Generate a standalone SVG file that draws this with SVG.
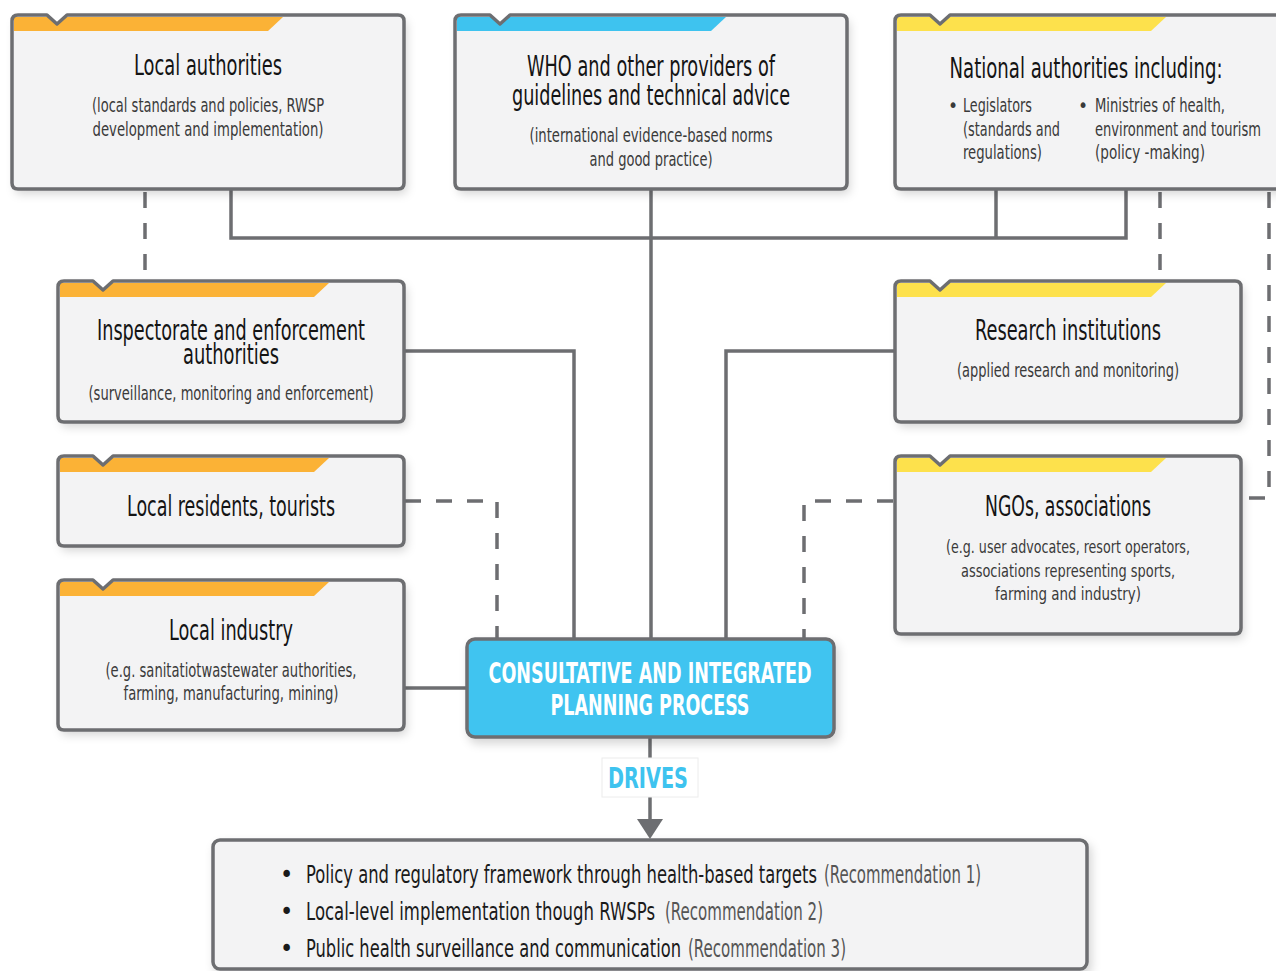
<svg xmlns="http://www.w3.org/2000/svg" width="1276" height="971" viewBox="0 0 1276 971">
<defs>
<filter id="sh" x="-10%" y="-10%" width="130%" height="140%">
<feDropShadow dx="3" dy="5" stdDeviation="5" flood-color="#000" flood-opacity="0.16"/>
</filter>
<style>
text{font-family:"Liberation Sans Narrow","DejaVu Sans Condensed","Liberation Sans",sans-serif}
.t{font-size:28px;fill:#141414;text-anchor:middle}
.s{font-size:20px;fill:#3a3a3a;text-anchor:middle}
.sn{font-size:18.5px;fill:#3a3a3a;text-anchor:middle}
.sl{font-size:19px;fill:#3a3a3a}
.bf{fill:#f3f3f4}
.bs{fill:none;stroke:#6d6e71;stroke-width:3.5;stroke-linejoin:round}
.or{fill:#fbb236}
.bl{fill:#3ec3ef}
.ye{fill:#fde14c}
.nt{fill:#fff}
.ln{fill:none;stroke:#6d6e71;stroke-width:3.5}
.da{stroke-dasharray:16 15}
.c{font-size:29px;font-weight:bold;fill:#fff;text-anchor:middle}
.b{font-size:25px;fill:#1a1a1a}
.r{font-size:25px;fill:#555}
</style>
</defs>
<rect width="1276" height="971" fill="#fff"/>

<g id="connectors">
<path class="ln" d="M231,189 V238 H1126 V189"/>
<path class="ln" d="M996,189 V238"/>
<path class="ln" d="M651,189 V639"/>
<path class="ln" d="M404,351 H574 V639"/>
<path class="ln" d="M895,351 H726 V639"/>
<path class="ln" d="M404,688 H467"/>
<path class="ln da" d="M145,192 V270"/>
<path class="ln da" d="M1160,192 V270"/>
<path class="ln da" d="M1269,192 V498 H1243"/>
<path class="ln da" d="M405,501 H497 V639"/>
<path class="ln da" d="M893,501 H804 V639"/>
<path class="ln" d="M650,737 V822"/>
<polygon points="637,819 663,819 650,839" fill="#6d6e71"/>
</g>

<g id="local-authorities">
<path class="bf" filter="url(#sh)" d="M18,15 H47 L57,24 L67,15 H398 Q404,15 404,21 V183 Q404,189 398,189 H18 Q12,189 12,183 V21 Q12,15 18,15 Z"/>
<path class="or" d="M14,17 H283 L268,31 H14 Z"/>
<polygon class="nt" points="46,13 68,13 57,24"/>
<path class="bs" d="M18,15 H47 L57,24 L67,15 H398 Q404,15 404,21 V183 Q404,189 398,189 H18 Q12,189 12,183 V21 Q12,15 18,15 Z"/>
<text class="t" x="208" y="75" textLength="148" lengthAdjust="spacingAndGlyphs">Local authorities</text>
<text class="s" x="208" y="112" textLength="232" lengthAdjust="spacingAndGlyphs">(local standards and policies, RWSP</text>
<text class="s" x="208" y="136" textLength="231" lengthAdjust="spacingAndGlyphs">development and implementation)</text>
</g>

<g id="who">
<path class="bf" filter="url(#sh)" d="M461,15 H490 L500,24 L510,15 H841 Q847,15 847,21 V183 Q847,189 841,189 H461 Q455,189 455,183 V21 Q455,15 461,15 Z"/>
<path class="bl" d="M457,17 H726 L711,31 H457 Z"/>
<polygon class="nt" points="489,13 511,13 500,24"/>
<path class="bs" d="M461,15 H490 L500,24 L510,15 H841 Q847,15 847,21 V183 Q847,189 841,189 H461 Q455,189 455,183 V21 Q455,15 461,15 Z"/>
<text class="t" x="651" y="76" textLength="248" lengthAdjust="spacingAndGlyphs">WHO and other providers of</text>
<text class="t" x="651" y="105" textLength="278" lengthAdjust="spacingAndGlyphs">guidelines and technical advice</text>
<text class="s" x="651" y="142" textLength="243" lengthAdjust="spacingAndGlyphs">(international evidence-based norms</text>
<text class="s" x="651" y="166" textLength="123" lengthAdjust="spacingAndGlyphs">and good practice)</text>
</g>

<g id="national-authorities">
<path class="bf" filter="url(#sh)" d="M901,15 H930 L940,24 L950,15 H1309 Q1315,15 1315,21 V183 Q1315,189 1309,189 H901 Q895,189 895,183 V21 Q895,15 901,15 Z"/>
<path class="ye" d="M897,17 H1166 L1151,31 H897 Z"/>
<polygon class="nt" points="929,13 951,13 940,24"/>
<path class="bs" d="M901,15 H930 L940,24 L950,15 H1309 Q1315,15 1315,21 V183 Q1315,189 1309,189 H901 Q895,189 895,183 V21 Q895,15 901,15 Z"/>
<text class="t" x="1086" y="78" font-size="27" textLength="273" lengthAdjust="spacingAndGlyphs">National authorities including:</text>
<text class="sl" x="948" y="112">•</text>
<text class="sl" x="963" y="112" textLength="69" lengthAdjust="spacingAndGlyphs">Legislators</text>
<text class="sl" x="963" y="136" textLength="97" lengthAdjust="spacingAndGlyphs">(standards and</text>
<text class="sl" x="963" y="159" textLength="79" lengthAdjust="spacingAndGlyphs">regulations)</text>
<text class="sl" x="1078" y="112">•</text>
<text class="sl" x="1095" y="112" textLength="130" lengthAdjust="spacingAndGlyphs">Ministries of health,</text>
<text class="sl" x="1095" y="136" textLength="166" lengthAdjust="spacingAndGlyphs">environment and tourism</text>
<text class="sl" x="1095" y="159" textLength="110" lengthAdjust="spacingAndGlyphs">(policy -making)</text>
</g>

<g id="inspectorate">
<path class="bf" filter="url(#sh)" d="M64,281 H93 L103,290 L113,281 H398 Q404,281 404,287 V416 Q404,422 398,422 H64 Q58,422 58,416 V287 Q58,281 64,281 Z"/>
<path class="or" d="M60,283 H329 L314,297 H60 Z"/>
<polygon class="nt" points="92,279 114,279 103,290"/>
<path class="bs" d="M64,281 H93 L103,290 L113,281 H398 Q404,281 404,287 V416 Q404,422 398,422 H64 Q58,422 58,416 V287 Q58,281 64,281 Z"/>
<text class="t" x="231" y="340" textLength="268" lengthAdjust="spacingAndGlyphs">Inspectorate and enforcement</text>
<text class="t" x="231" y="364" textLength="96" lengthAdjust="spacingAndGlyphs">authorities</text>
<text class="s" x="231" y="400" textLength="285" lengthAdjust="spacingAndGlyphs">(surveillance, monitoring and enforcement)</text>
</g>

<g id="local-residents">
<path class="bf" filter="url(#sh)" d="M64,456 H93 L103,465 L113,456 H398 Q404,456 404,462 V540 Q404,546 398,546 H64 Q58,546 58,540 V462 Q58,456 64,456 Z"/>
<path class="or" d="M60,458 H329 L314,472 H60 Z"/>
<polygon class="nt" points="92,454 114,454 103,465"/>
<path class="bs" d="M64,456 H93 L103,465 L113,456 H398 Q404,456 404,462 V540 Q404,546 398,546 H64 Q58,546 58,540 V462 Q58,456 64,456 Z"/>
<text class="t" x="231" y="516" textLength="208" lengthAdjust="spacingAndGlyphs">Local residents, tourists</text>
</g>

<g id="local-industry">
<path class="bf" filter="url(#sh)" d="M64,580 H93 L103,589 L113,580 H398 Q404,580 404,586 V724 Q404,730 398,730 H64 Q58,730 58,724 V586 Q58,580 64,580 Z"/>
<path class="or" d="M60,582 H329 L314,596 H60 Z"/>
<polygon class="nt" points="92,578 114,578 103,589"/>
<path class="bs" d="M64,580 H93 L103,589 L113,580 H398 Q404,580 404,586 V724 Q404,730 398,730 H64 Q58,730 58,724 V586 Q58,580 64,580 Z"/>
<text class="t" x="231" y="640" textLength="124" lengthAdjust="spacingAndGlyphs">Local industry</text>
<text class="s" x="231" y="677" textLength="251" lengthAdjust="spacingAndGlyphs">(e.g.  sanitatiotwastewater authorities,</text>
<text class="s" x="231" y="700" textLength="215" lengthAdjust="spacingAndGlyphs">farming, manufacturing, mining)</text>
</g>

<g id="research">
<path class="bf" filter="url(#sh)" d="M901,281 H930 L940,290 L950,281 H1235 Q1241,281 1241,287 V416 Q1241,422 1235,422 H901 Q895,422 895,416 V287 Q895,281 901,281 Z"/>
<path class="ye" d="M897,283 H1166 L1151,297 H897 Z"/>
<polygon class="nt" points="929,279 951,279 940,290"/>
<path class="bs" d="M901,281 H930 L940,290 L950,281 H1235 Q1241,281 1241,287 V416 Q1241,422 1235,422 H901 Q895,422 895,416 V287 Q895,281 901,281 Z"/>
<text class="t" x="1068" y="340" textLength="186" lengthAdjust="spacingAndGlyphs">Research institutions</text>
<text class="s" x="1068" y="377" textLength="222" lengthAdjust="spacingAndGlyphs">(applied research and monitoring)</text>
</g>

<g id="ngos">
<path class="bf" filter="url(#sh)" d="M901,456 H930 L940,465 L950,456 H1235 Q1241,456 1241,462 V628 Q1241,634 1235,634 H901 Q895,634 895,628 V462 Q895,456 901,456 Z"/>
<path class="ye" d="M897,458 H1166 L1151,472 H897 Z"/>
<polygon class="nt" points="929,454 951,454 940,465"/>
<path class="bs" d="M901,456 H930 L940,465 L950,456 H1235 Q1241,456 1241,462 V628 Q1241,634 1235,634 H901 Q895,634 895,628 V462 Q895,456 901,456 Z"/>
<text class="t" x="1068" y="516" textLength="166" lengthAdjust="spacingAndGlyphs">NGOs, associations</text>
<text class="sn" x="1068" y="553" textLength="244" lengthAdjust="spacingAndGlyphs">(e.g. user advocates, resort operators,</text>
<text class="sn" x="1068" y="577" textLength="214" lengthAdjust="spacingAndGlyphs">associations representing sports,</text>
<text class="sn" x="1068" y="600" textLength="146" lengthAdjust="spacingAndGlyphs">farming and industry)</text>
</g>

<g id="planning-process">
<rect x="467" y="639" width="367" height="98" rx="8" fill="#40c4f0" stroke="#6d6e71" stroke-width="3.5" filter="url(#sh)"/>
<text class="c" x="650" y="683" textLength="323" lengthAdjust="spacingAndGlyphs">CONSULTATIVE AND INTEGRATED</text>
<text class="c" x="650" y="715" textLength="199" lengthAdjust="spacingAndGlyphs">PLANNING PROCESS</text>
</g>

<g id="drives-label">
<rect x="602" y="758" width="96" height="39" fill="#fff" stroke="#ececec" stroke-width="1"/>
<text x="648" y="788" font-size="29" font-weight="bold" fill="#3ec3ef" text-anchor="middle" textLength="80" lengthAdjust="spacingAndGlyphs">DRIVES</text>
</g>

<g id="outcomes">
<rect x="213" y="840" width="874" height="129" rx="7" fill="#f3f3f4" stroke="#6d6e71" stroke-width="3.5" filter="url(#sh)"/>
<text class="b" x="280" y="883">•</text>
<text class="b" x="306" y="883" textLength="511" lengthAdjust="spacingAndGlyphs">Policy and regulatory framework through health-based targets</text>
<text class="r" x="824" y="883" textLength="157" lengthAdjust="spacingAndGlyphs">(Recommendation 1)</text>
<text class="b" x="280" y="920">•</text>
<text class="b" x="306" y="920" textLength="349" lengthAdjust="spacingAndGlyphs">Local-level implementation though RWSPs</text>
<text class="r" x="665" y="920" textLength="158" lengthAdjust="spacingAndGlyphs">(Recommendation 2)</text>
<text class="b" x="280" y="957">•</text>
<text class="b" x="306" y="957" textLength="375" lengthAdjust="spacingAndGlyphs">Public health surveillance and communication</text>
<text class="r" x="688" y="957" textLength="158" lengthAdjust="spacingAndGlyphs">(Recommendation 3)</text>
</g>
</svg>
